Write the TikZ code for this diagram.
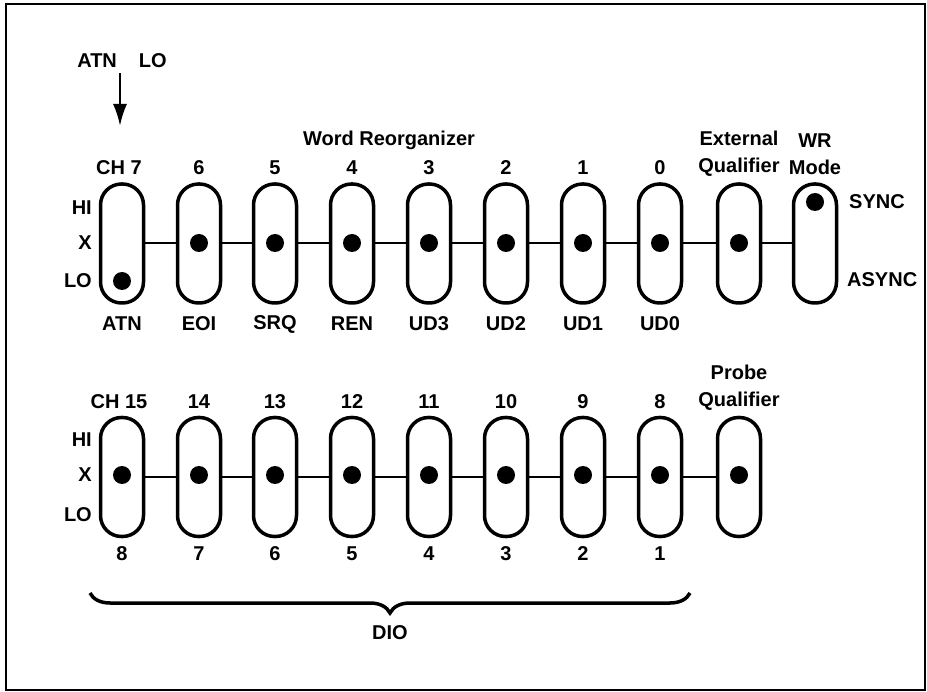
\documentclass[tikz,border=0pt]{standalone}
\usepackage{fontspec}
\setmainfont{Liberation Sans}
\usepackage{tikz}
\usetikzlibrary{arrows.meta, positioning, calc, decorations.pathreplacing}

\tikzset{
  pill/.style={draw, line width=3.5pt, rounded corners=21pt, minimum width=43pt, minimum height=119pt, inner sep=0pt},
  dot/.style={circle, fill=black, minimum size=18pt, inner sep=0pt},
  lbl/.style={font=\fontsize{20}{27}\selectfont\bfseries, inner sep=0pt, align=center},
  link/.style={line width=2pt}
}

\begin{document}
\begin{tikzpicture}[x=1pt, y=-1pt]
\useasboundingbox (0,0) rectangle (927,692);

% Frame
\draw[line width=2pt] (6,4) rectangle (925,690);

% ATN LO arrow
\node[lbl] (atnlo) at (122,61) {ATN\hspace{22pt}LO};
\coordinate (atnend) at (120,126);
\draw[line width=2.5pt, -{Latex[length=22pt, width=14pt]}] (atnlo.south -| atnend) ++(0,5) -- (atnend);

% Upper row of switches
\foreach \n/\x in {7/122, 6/199, 5/275, 4/352, 3/429, 2/506, 1/583, 0/660} {
    \node[pill] (t\n) at (\x,243.5) {};
}
\node[pill] (ext) at (739,243.5) {};
\node[pill] (wr) at (815,243.5) {};

% Dots (upper)
\node[dot] (d7) at (122,281) {};
\foreach \n/\x in {6/199, 5/275, 4/352, 3/429, 2/506, 1/583, 0/660} {
    \node[dot] (d\n) at (\x,243) {};
}
\node[dot] (dext) at (739,243) {};
\node[dot] (dwr) at (815,202) {};

% Links (upper)
\foreach \a/\b in {t7/t6, t6/t5, t5/t4, t4/t3, t3/t2, t2/t1, t1/t0, t0/ext, ext/wr} {
    \draw[link] (\a) -- (\b);
}

% Labels (upper)
\node[lbl] (ch7) at (119,168) {CH 7};
\foreach \n/\x in {6/199, 5/275, 4/352, 3/429, 2/506, 1/583, 0/660} {
    \node[lbl] (n\n) at (\x,168) {\n};
}
\node[lbl] (wordreorg) at (389,140) {Word Reorganizer};
\node[lbl] (extq) at (739,154) {External\\Qualifier};
\node[lbl] (wrmode) at (815,154) {WR\\Mode};
\node[lbl, anchor=east] (hi1) at (92,208) {HI};
\node[lbl, anchor=east] (x1) at (92,243) {X};
\node[lbl, anchor=east] (lo1) at (92,281) {LO};
\node[lbl, anchor=west] (sync) at (849,202) {SYNC};
\node[lbl, anchor=west] (async) at (847,280) {ASYNC};
\foreach \t/\x in {ATN/122, EOI/199, SRQ/275, REN/352, UD3/429, UD2/506, UD1/583, UD0/660} {
    \node[lbl] (s\t) at (\x,324) {\t};
}

% Lower row of switches
\foreach \n/\x in {15/122, 14/199, 13/275, 12/352, 11/429, 10/506, 9/583, 8/660} {
    \node[pill] (b\n) at (\x,477) {};
    \node[dot] (e\n) at (\x,475) {};
}
\node[pill] (prb) at (739,477) {};
\node[dot] (eprb) at (739,475) {};

% Links (lower)
\foreach \a/\b in {b15/b14, b14/b13, b13/b12, b12/b11, b11/b10, b10/b9, b9/b8, b8/prb} {
    \draw[link] (\a) -- (\b);
}

% Labels (lower)
\node[lbl] (ch15) at (119,402) {CH 15};
\foreach \n/\x in {14/199, 13/275, 12/352, 11/429, 10/506, 9/583, 8/660} {
    \node[lbl] (m\n) at (\x,402) {\n};
}
\node[lbl] (prbq) at (739,388) {Probe\\Qualifier};
\node[lbl, anchor=east] (hi2) at (92,440) {HI};
\node[lbl, anchor=east] (x2) at (92,475) {X};
\node[lbl, anchor=east] (lo2) at (92,515) {LO};
\foreach \d/\x in {8/122, 7/199, 6/275, 5/352, 4/429, 3/506, 2/583, 1/660} {
    \node[lbl] (dio\d) at (\x,554) {\d};
}

% DIO brace
\coordinate (brl) at (90,593);
\coordinate (brr) at (690,593);
\draw[line width=3.5pt, decorate, decoration={brace, mirror, amplitude=20pt}] (brl) -- (brr);
\node[lbl] (dio) at (390,633) {DIO};

\end{tikzpicture}
\end{document}
